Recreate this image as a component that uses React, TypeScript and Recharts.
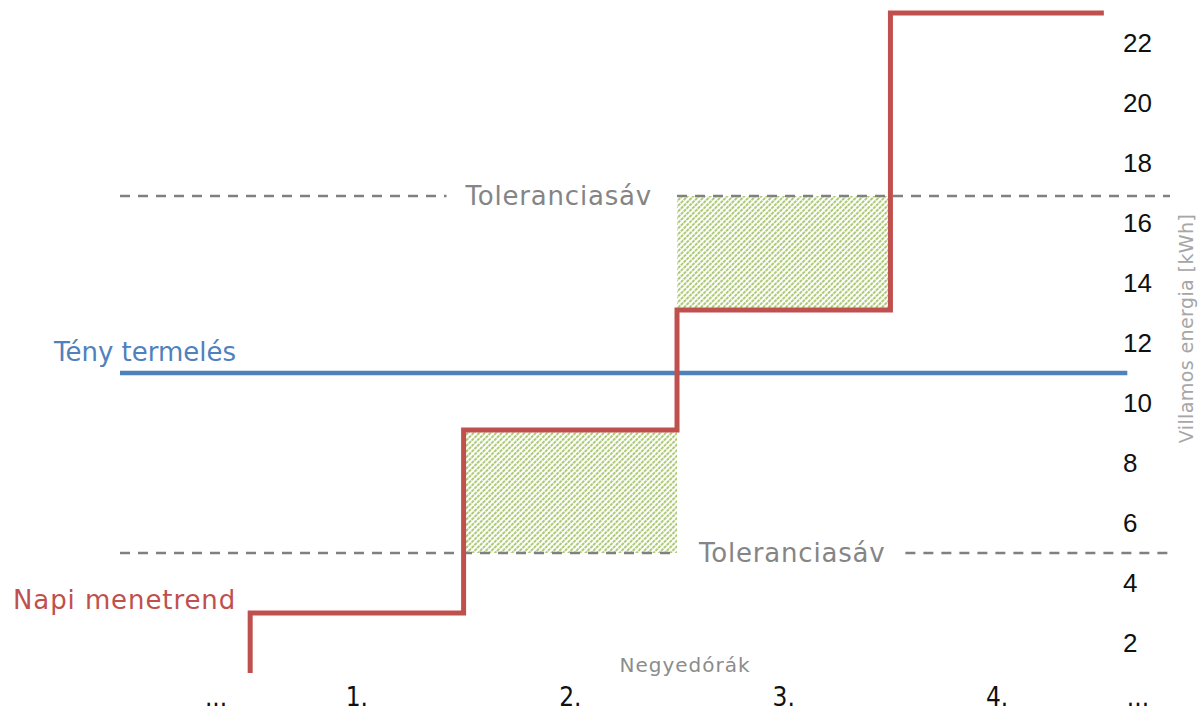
import React from 'react';
import { ComposedChart, Line, XAxis, YAxis, ReferenceLine, ReferenceArea, ReferenceDot } from 'recharts';

// quarter-hour slots on the x axis (boundaries at 0..4, labels in the middle)
const quarterTicks = [-0.16, 0.5, 1.5, 2.5, 3.5, 4.16];
const quarterLabels = ['...', '1.', '2.', '3.', '4.', '...'];

const energyTicks = [2, 4, 6, 8, 10, 12, 14, 16, 18, 20, 22];

// daily schedule (Napi menetrend), step values per boundary
const scheduleX = [0, 1, 2, 3, 4];
const scheduleY = [1, 3, 9.1, 13.1, 23];

// actual production (Tény termelés)
const actualX = [-0.61, 4.11];
const actualY = [11, 11];

// tolerance band
const toleranceLow = 5;
const toleranceHigh = 16.9;
const upperDashes: [number, number][] = [[-0.61, 0.92], [2.0, 4.31]];
const lowerDashes: [number, number][] = [[-0.61, 2.0], [3.07, 4.31]];

const X_DOMAIN: [number, number] = [-0.61, 4.31];
const Y_DOMAIN: [number, number] = [0, 703 / 30];

const scheduleData = scheduleX.map((x, i) => ({ x, y: scheduleY[i] }));
const actualData = actualX.map((x, i) => ({ x, y: actualY[i] }));

const FONT = '"DejaVu Sans", Verdana, sans-serif';
const RED = '#c0504d';
const BLUE = '#4f81bd';
const GREY = '#858585';

const QuarterTick = (props: any) => {
  const { x, y, payload } = props;
  const idx = quarterTicks.indexOf(payload.value);
  return (
    <text x={x} y={y + 3} textAnchor="middle" fill="#111"
      style={{ fontFamily: '"Liberation Sans Narrow", "DejaVu Sans Condensed", sans-serif', fontSize: 26 }}>
      {quarterLabels[idx]}
    </text>
  );
};

const EnergyTick = (props: any) => {
  const { x, y, payload } = props;
  return (
    <text x={x - 47} y={y} textAnchor="start" dominantBaseline="central" fill="#111"
      style={{ fontFamily: '"Liberation Sans", Arial, sans-serif', fontSize: 26 }}>
      {payload.value}
    </text>
  );
};

const EnergyTitle = (props: any) => {
  const vb = props.viewBox || { x: 1170, y: 0, width: 28, height: 703 };
  const cx = vb.x + 16;
  const cy = vb.y + vb.height / 2 - 23;
  return (
    <text x={cx} y={cy} textAnchor="middle" dominantBaseline="central" fill="#a6a6a6"
      transform={`rotate(-90, ${cx}, ${cy})`} style={{ fontFamily: FONT, fontSize: 19, letterSpacing: 0.4 }}>
      Villamos energia [kWh]
    </text>
  );
};

const QuarterTitle = (props: any) => {
  const vb = props.viewBox || { x: 120, y: 703, width: 1050, height: 10 };
  const cx = vb.x + vb.width / 2 + 40;
  const cy = vb.y - 38;
  return (
    <text x={cx} y={cy} textAnchor="middle" dominantBaseline="central" fill="#8c8c8c"
      style={{ fontFamily: FONT, fontSize: 20, letterSpacing: 1 }}>
      Negyedórák
    </text>
  );
};

const dashStyle = { stroke: '#808080', strokeWidth: 2.5, strokeDasharray: '10 8' };

export default function App() {
  return (
    <div style={{ position: 'absolute', left: 0, top: 0, background: '#fff' }}>
      <ComposedChart width={1198} height={713} margin={{ top: 0, right: 0, bottom: 0, left: 120 }}>
        <defs>
          <pattern id="hatch" patternUnits="userSpaceOnUse" width="4" height="4" patternTransform="rotate(45)">
            <line x1="1" y1="0" x2="1" y2="4" stroke="#8ab43c" strokeWidth="1.4" strokeDasharray="2.3 0.7" />
          </pattern>
        </defs>
        <XAxis dataKey="x" type="number" domain={X_DOMAIN} ticks={quarterTicks} interval={0}
          allowDataOverflow height={10} axisLine={false} tickLine={false} tickSize={0} tickMargin={0}
          tick={<QuarterTick />} label={<QuarterTitle />} />
        <YAxis orientation="right" type="number" domain={Y_DOMAIN} ticks={energyTicks} interval={0}
          allowDataOverflow width={28} axisLine={false} tickLine={false} tickSize={0} tickMargin={0}
          tick={<EnergyTick />} label={<EnergyTitle />} />

        <ReferenceArea x1={scheduleX[1]} x2={scheduleX[2]} y1={toleranceLow} y2={scheduleY[2]}
          fill="url(#hatch)" fillOpacity={1} stroke="none" ifOverflow="visible" />
        <ReferenceArea x1={scheduleX[2]} x2={scheduleX[3]} y1={scheduleY[3]} y2={toleranceHigh}
          fill="url(#hatch)" fillOpacity={1} stroke="none" ifOverflow="visible" />

        {upperDashes.map(([a, b], i) => (
          <ReferenceLine key={`u${i}`} segment={[{ x: a, y: toleranceHigh }, { x: b, y: toleranceHigh }]}
            ifOverflow="visible" {...dashStyle} />
        ))}
        {lowerDashes.map(([a, b], i) => (
          <ReferenceLine key={`l${i}`} segment={[{ x: a, y: toleranceLow }, { x: b, y: toleranceLow }]}
            ifOverflow="visible" {...dashStyle} />
        ))}

        <Line data={actualData} dataKey="y" type="linear" stroke={BLUE} strokeWidth={4.5}
          dot={false} activeDot={false} isAnimationActive={false} />
        <Line data={scheduleData} dataKey="y" type="stepBefore" stroke={RED} strokeWidth={5}
          dot={false} activeDot={false} isAnimationActive={false} />

        <ReferenceDot x={1.446} y={toleranceHigh} r={0} fill="none" stroke="none" ifOverflow="visible"
          label={{ value: 'Toleranciasáv', position: 'center', fill: GREY, fontSize: 26, letterSpacing: 0.8, fontFamily: FONT }} />
        <ReferenceDot x={2.54} y={toleranceLow} r={0} fill="none" stroke="none" ifOverflow="visible"
          label={{ value: 'Toleranciasáv', position: 'center', fill: GREY, fontSize: 26, letterSpacing: 0.8, fontFamily: FONT }} />
        <ReferenceDot x={-0.066} y={11.7} r={0} fill="none" stroke="none" ifOverflow="visible"
          label={{ value: 'Tény termelés', position: 'left', offset: 0, fill: BLUE, fontSize: 26, fontFamily: FONT }} />
        <ReferenceDot x={-0.066} y={3.43} r={0} fill="none" stroke="none" ifOverflow="visible"
          label={{ value: 'Napi menetrend', position: 'left', offset: 0, fill: RED, fontSize: 26, letterSpacing: 0.9, fontFamily: FONT }} />
      </ComposedChart>
    </div>
  );
}
